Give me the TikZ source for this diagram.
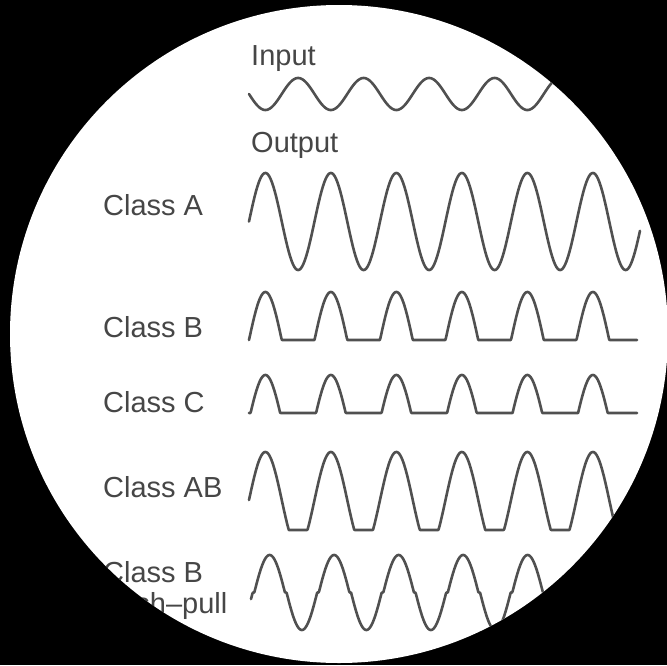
\documentclass[tikz,border=0pt]{standalone}
\usepackage{fontspec}
\setmainfont{Liberation Sans}
\definecolor{wavegray}{RGB}{80,80,80}
\definecolor{labelgray}{RGB}{70,70,70}
\begin{document}
\begin{tikzpicture}[x=1pt,y=-1pt,
  wave/.style={draw=wavegray, line width=2.6pt, line join=round, line cap=round},
  lbl/.style={anchor=base west, inner sep=0pt, text=labelgray, font=\fontsize{29}{31}\selectfont}]
\useasboundingbox (0,0) rectangle (667,665);
\fill[black] (0,0) rectangle (667,665);
\fill[white] (339,334) circle[radius=329pt];
\begin{scope}
\clip (339,334) circle[radius=329pt];
% labels
\node[lbl] (input) at (251,65) {Input};
\node[lbl] (output) at (251,152) {Output};
\node[lbl] (classA) at (103,215) {Class A};
\node[lbl] (classB) at (103,337) {Class B};
\node[lbl] (classC) at (103,412) {Class C};
\node[lbl] (classAB) at (103,497) {Class AB};
\node[lbl] (classBpp) at (103,582) {Class B};
\node[lbl] (pushpull) at (103,613) {push--pull};
% input
\draw[wave] plot[domain=249:570, samples=400] (\x, {94 + 16*sin(((\x-249)/65.5)*360)});
% class A
\draw[wave] plot[domain=249:640, samples=500] (\x, {221.5 - 48.5*sin(((\x-249)/65.5)*360)});
% class B
\draw[wave] plot[domain=249:637, samples=600] (\x, {340 - 48*max(sin(((\x-249)/65.5)*360),0)});
% class C
\draw[wave] plot[domain=249:637, samples=600] (\x, {413 - 38*max(sin(((\x-249)/65.5)*360)-0.15,0)/0.85});
% class AB
\draw[wave] plot[domain=249:640, samples=600] (\x, {500 - 48*max(sin(((\x-249)/65.5)*360),-0.625)});
% class B push-pull
\draw[wave] plot[domain=251:640, samples=600] (\x, {592.5 - 37.5*(max(sin(((\x-253.5)/64.5)*360)-0.08,0) - max(-sin(((\x-253.5)/64.5)*360)-0.08,0))/0.92});
\end{scope}
\end{tikzpicture}
\end{document}
